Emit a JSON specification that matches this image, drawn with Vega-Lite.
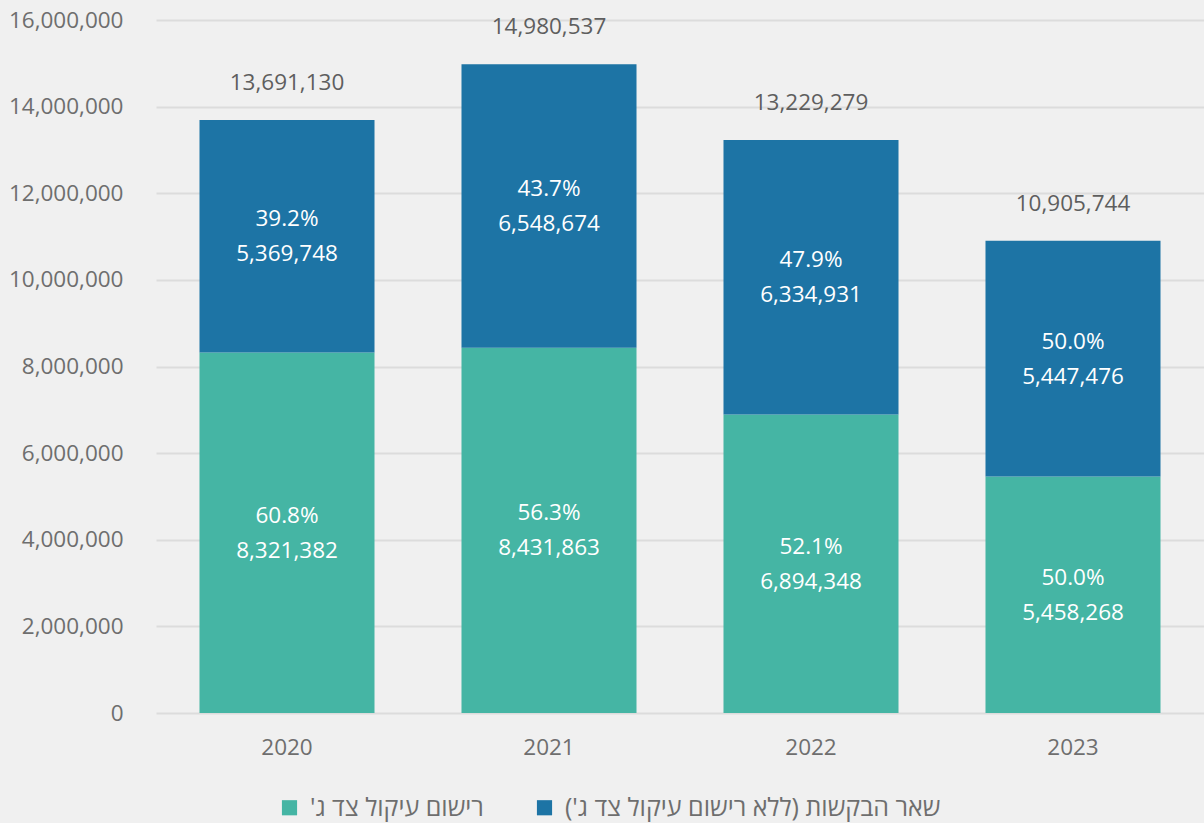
{
  "$schema": "https://vega.github.io/schema/vega-lite/v6.json",
  "width": 1048,
  "height": 693,
  "autosize": {"type": "none"},
  "padding": {"left": 156, "top": 20, "right": 0, "bottom": 110},
  "background": "#f0f0f0",
  "config": {
    "view": {"stroke": null},
    "font": "Open Sans, DejaVu Sans, sans-serif"
  },
  "datasets": {
    "parts": [
      {"year": "2020", "series": "רישום עיקול צד ג'‏", "value": 8321382, "pct": "60.8%"},
      {"year": "2020", "series": "שאר הבקשות (ללא רישום עיקול צד ג')‏", "value": 5369748, "pct": "39.2%"},
      {"year": "2021", "series": "רישום עיקול צד ג'‏", "value": 8431863, "pct": "56.3%"},
      {"year": "2021", "series": "שאר הבקשות (ללא רישום עיקול צד ג')‏", "value": 6548674, "pct": "43.7%"},
      {"year": "2022", "series": "רישום עיקול צד ג'‏", "value": 6894348, "pct": "52.1%"},
      {"year": "2022", "series": "שאר הבקשות (ללא רישום עיקול צד ג')‏", "value": 6334931, "pct": "47.9%"},
      {"year": "2023", "series": "רישום עיקול צד ג'‏", "value": 5458268, "pct": "50.0%"},
      {"year": "2023", "series": "שאר הבקשות (ללא רישום עיקול צד ג')‏", "value": 5447476, "pct": "50.0%"}
    ],
    "totals": [
      {"year": "2020", "total": 13691130},
      {"year": "2021", "total": 14980537},
      {"year": "2022", "total": 13229279},
      {"year": "2023", "total": 10905744}
    ]
  },
  "layer": [
    {
      "data": {"name": "parts"},
      "transform": [
        {"stack": "value", "groupby": ["year"], "sort": [{"field": "series", "order": "ascending"}], "as": ["v0", "v1"]},
        {"calculate": "(datum.v0 + datum.v1) / 2", "as": "mid"}
      ],
      "layer": [
        {
          "mark": {"type": "bar"},
          "encoding": {
            "x": {
              "field": "year", "type": "nominal",
              "scale": {"paddingInner": 0.332, "paddingOuter": 0.166},
              "axis": {
                "title": null, "domain": false, "ticks": false,
                "labelAngle": 0, "labelFontSize": 22.5, "labelColor": "#6e6e6e",
                "labelPadding": 23, "labelBaseline": "top"
              }
            },
            "y": {
              "field": "v0", "type": "quantitative",
              "scale": {"domain": [0, 16000000], "nice": false},
              "axis": {
                "title": null, "domain": false, "ticks": false,
                "values": [0, 2000000, 4000000, 6000000, 8000000, 10000000, 12000000, 14000000, 16000000],
                "format": ",d", "labelFontSize": 22.5, "labelColor": "#6e6e6e",
                "labelPadding": 33, "gridColor": "#dcdcdc", "gridWidth": 2
              }
            },
            "y2": {"field": "v1"},
            "color": {
              "field": "series", "type": "nominal",
              "scale": {
                "domain": ["רישום עיקול צד ג'‏", "שאר הבקשות (ללא רישום עיקול צד ג')‏"],
                "range": ["#45b5a4", "#1d74a5"]
              },
              "legend": {
                "title": null, "orient": "none", "direction": "horizontal",
                "legendX": 121, "legendY": 775,
                "symbolType": "square", "symbolSize": 230, "symbolStrokeWidth": 0,
                "labelFontSize": 25, "labelColor": "#6e6e6e", "labelOffset": 8,
                "columnPadding": 48, "labelLimit": 700
              }
            }
          }
        },
        {
          "mark": {"type": "text", "color": "white", "fontSize": 22.5, "dy": -17, "baseline": "middle"},
          "encoding": {
            "x": {"field": "year", "type": "nominal"},
            "y": {"field": "mid", "type": "quantitative"},
            "text": {"field": "pct"}
          }
        },
        {
          "mark": {"type": "text", "color": "white", "fontSize": 22.5, "dy": 18, "baseline": "middle"},
          "encoding": {
            "x": {"field": "year", "type": "nominal"},
            "y": {"field": "mid", "type": "quantitative"},
            "text": {"field": "value", "type": "quantitative", "format": ",d"}
          }
        }
      ]
    },
    {
      "data": {"name": "totals"},
      "mark": {"type": "text", "color": "#5e5e5e", "fontSize": 22.5, "dy": -37, "baseline": "middle"},
      "encoding": {
        "x": {"field": "year", "type": "nominal"},
        "y": {"field": "total", "type": "quantitative"},
        "text": {"field": "total", "type": "quantitative", "format": ",d"}
      }
    }
  ]
}
